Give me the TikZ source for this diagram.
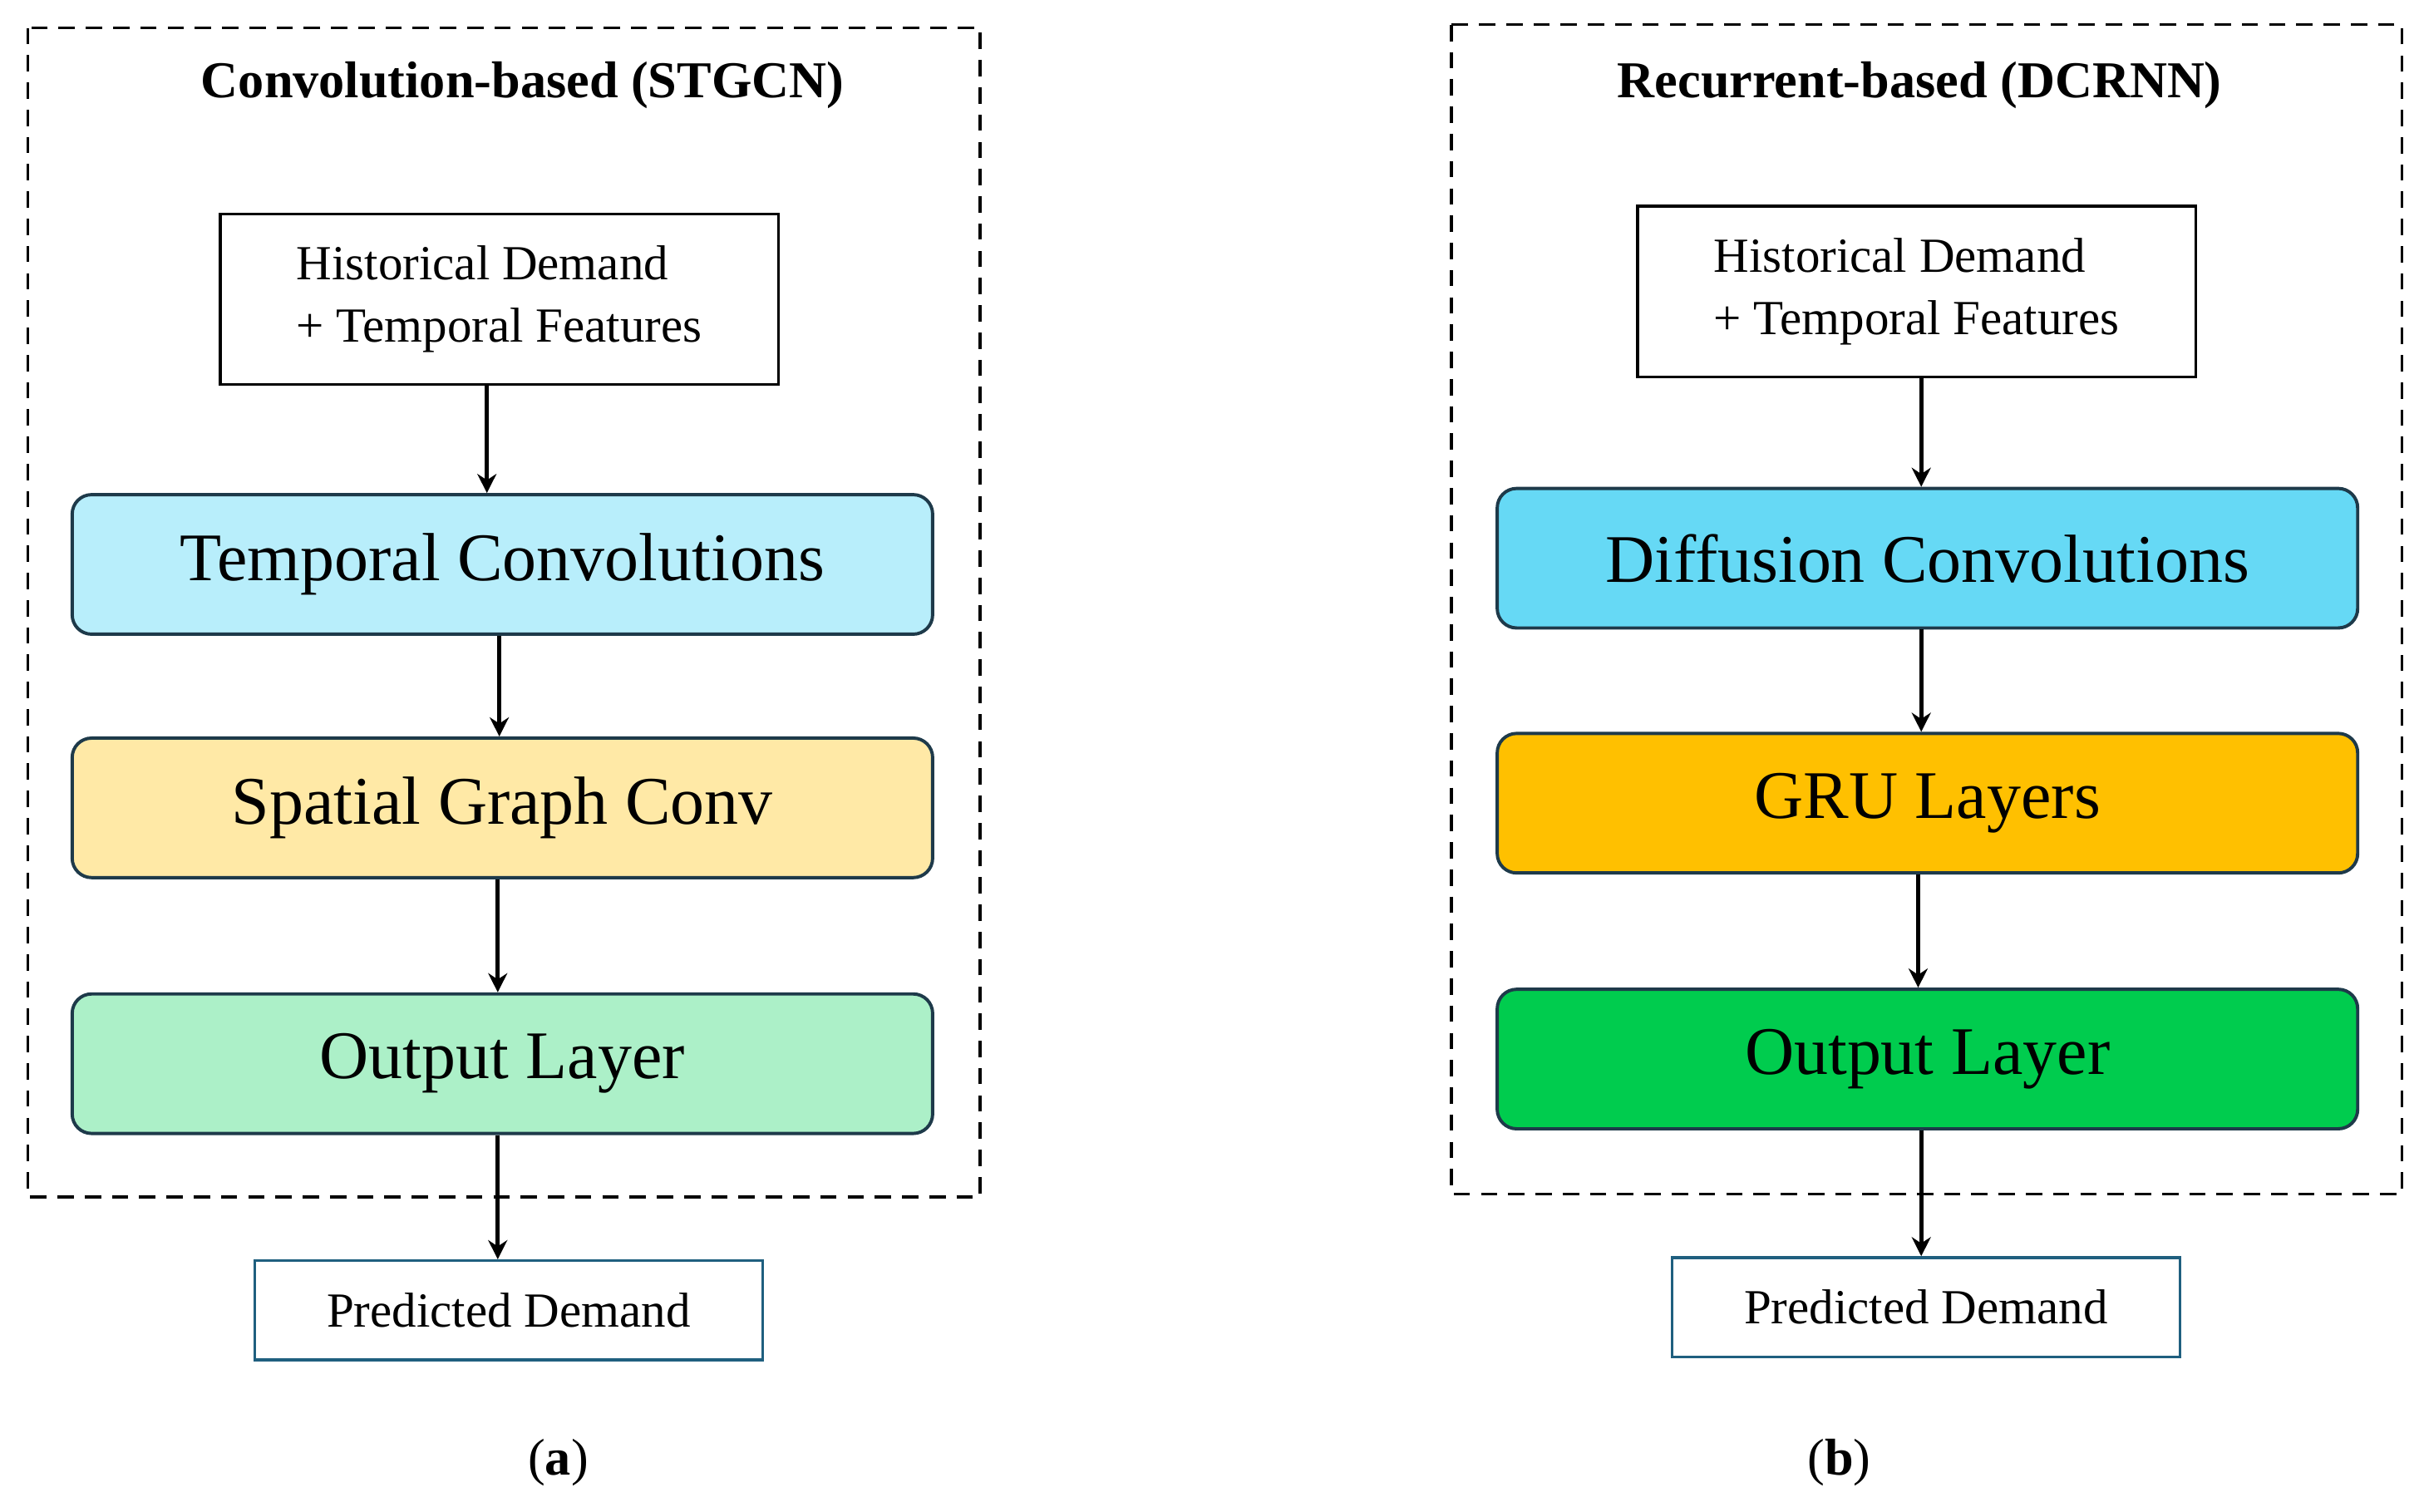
\documentclass[tikz,border=0pt]{standalone}
\usepackage{fontspec}
\setmainfont{Liberation Serif}
\usetikzlibrary{arrows.meta}
\definecolor{tempc}{HTML}{B8EEFB}
\definecolor{spatc}{HTML}{FFE9A6}
\definecolor{outa}{HTML}{ACF0C8}
\definecolor{diffc}{HTML}{66D9F5}
\definecolor{gruc}{HTML}{FFC000}
\definecolor{outb}{HTML}{00CC4E}
\definecolor{predc}{HTML}{1F5F7F}
\definecolor{edgec}{HTML}{1E3A4A}
\tikzset{
  layer/.style={draw=edgec, line width=1.2pt, rounded corners=0.25cm, minimum width=11.1cm, minimum height=1.8cm, font=\fontsize{25}{28}\selectfont},
  inbox/.style={draw, line width=1pt, minimum width=7.2cm, minimum height=2.2cm, align=left, font=\fontsize{18}{23}\selectfont},
  predbox/.style={draw=predc, line width=1pt, minimum width=6.55cm, minimum height=1.28cm, font=\fontsize{18}{21}\selectfont},
  flow/.style={-{Stealth[length=7pt,width=7pt]}, line width=1.5pt},
  frame/.style={dashed, line width=1pt, dash pattern=on 6pt off 4pt},
  title/.style={font=\bfseries\fontsize{19}{22}\selectfont}
}
\begin{document}
\begin{tikzpicture}[x=0.02cm,y=-0.02cm]
    \useasboundingbox (0,0) rectangle (1560,975);
    % left panel
    \draw [frame] (18,18) rectangle (632,772);
    \node [title] (ta) at (337,55) {Convolution-based (STGCN)};
    \node [inbox] (ina) at (322,193) {Historical Demand\\+ Temporal Features};
    \node [layer, fill=tempc] (tca) at (324,364) {Temporal Convolutions};
    \node [layer, fill=spatc] (sga) at (324,521) {Spatial Graph Conv};
    \node [layer, fill=outa] (ola) at (324,686) {Output Layer};
    \node [predbox] (pda) at (328,845) {Predicted Demand};
    \node [font=\fontsize{19}{22}\selectfont] (la) at (360,943) {(\textbf{a})};
    \draw [flow] (ina.south -| 314,0) -- (tca.north -| 314,0);
    \draw [flow] (tca.south -| 322,0) -- (sga.north -| 322,0);
    \draw [flow] (sga.south -| 321,0) -- (ola.north -| 321,0);
    \draw [flow] (ola.south -| 321,0) -- (pda.north -| 321,0);
    % right panel
    \draw [frame] (936,16) rectangle (1549,770);
    \node [title] (tb) at (1238,55) {Recurrent-based (DCRNN)};
    \node [inbox] (inb) at (1236,188) {Historical Demand\\+ Temporal Features};
    \node [layer, fill=diffc] (dcb) at (1243,360) {Diffusion Convolutions};
    \node [layer, fill=gruc] (grb) at (1243,518) {GRU Layers};
    \node [layer, fill=outb] (olb) at (1243,683) {Output Layer};
    \node [predbox] (pdb) at (1242,843) {Predicted Demand};
    \node [font=\fontsize{19}{22}\selectfont] (lb) at (1186,943) {(\textbf{b})};
    \draw [flow] (inb.south -| 1239,0) -- (dcb.north -| 1239,0);
    \draw [flow] (dcb.south -| 1239,0) -- (grb.north -| 1239,0);
    \draw [flow] (grb.south -| 1237,0) -- (olb.north -| 1237,0);
    \draw [flow] (olb.south -| 1239,0) -- (pdb.north -| 1239,0);
\end{tikzpicture}
\end{document}
